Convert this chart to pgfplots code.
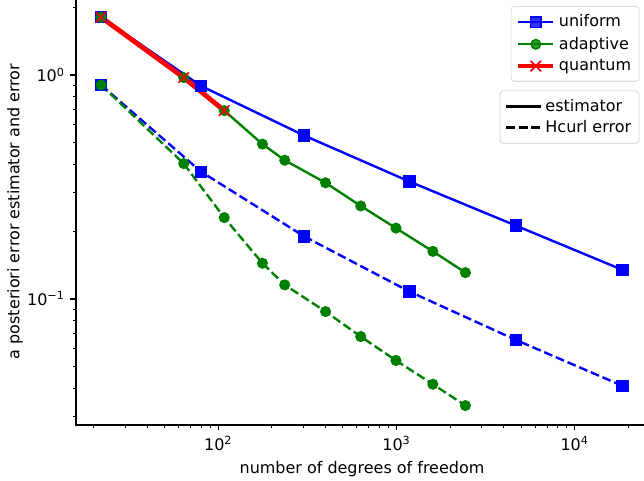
\documentclass[border=0pt]{standalone}
\usepackage{fontspec}
\setmainfont{DejaVu Sans}
\usepackage{pgfplots}
\pgfplotsset{compat=1.18}
\definecolor{mplblue}{rgb}{0,0,1}
\definecolor{mplgreen}{rgb}{0,0.5,0}
\definecolor{mplred}{rgb}{1,0,0}
\pgfplotsset{
  mpllegend/.style={
    legend cell align=left,
    legend image code/.code={\draw[mark repeat=2,mark phase=2] plot coordinates {(0pt,0pt) (11pt,0pt) (22pt,0pt)};},
    legend style={draw=black!20, rounded corners=2pt, fill=white, fill opacity=0.8, text opacity=1, anchor=north east, inner ysep=3.3pt},
  },
}
\begin{document}
\begin{tikzpicture}
\begin{axis}[name=ax, scale only axis, width=358.1pt, height=267.3pt,
  xmode=log, ymode=log,
  xmin=15.91, xmax=25780, ymin=0.02738, ymax=2.207,
  xtick={100,1000,10000},
  xticklabels={10\textsuperscript{2},10\textsuperscript{3},10\textsuperscript{4}},
  minor xtick={20,30,40,50,60,70,80,90,200,300,400,500,600,700,800,900,2000,3000,4000,5000,6000,7000,8000,9000,20000},
  ytick={0.1,1},
  yticklabels={10\textsuperscript{−1},10\textsuperscript{0}},
  minor ytick={0.03,0.04,0.05,0.06,0.07,0.08,0.09,0.2,0.3,0.4,0.5,0.6,0.7,0.8,0.9,2},
  tick align=outside, major tick length=3.5pt, minor tick length=2pt,
  every tick/.style={black, line width=0.8pt},
  minor tick style={line width=0.6pt},
  axis line style={line width=0.8pt},
  xlabel={number of degrees of freedom},
  ylabel={a posteriori error estimator and error},
  ylabel shift=-4pt,
  mpllegend,
  legend style={at={(0.985,0.981)}, row sep=0.8pt},
]
% uniform
\addplot[mplblue, line width=1.5pt, mark=square*, mark size=3.35pt, mark options={line width=1pt}]
  coordinates {(22,1.81) (80,0.893) (304,0.536) (1184,0.334) (4672,0.2125) (18560,0.1347)};
\addlegendentry{uniform}
\addplot[mplblue, line width=1.5pt, dash pattern=on 5.55pt off 2.4pt, mark=square*, mark size=3.35pt, mark options={solid, line width=1pt}, forget plot]
  coordinates {(22,0.902) (80,0.370) (304,0.190) (1184,0.1078) (4672,0.0656) (18560,0.0409)};
% adaptive
\addplot[mplgreen, line width=1.5pt, mark=*, mark size=2.95pt, mark options={line width=1pt}]
  coordinates {(22,1.81) (64,0.973) (108,0.693) (177,0.491) (236,0.416) (400,0.330) (630,0.260) (993,0.207) (1600,0.163) (2437,0.131)};
\addlegendentry{adaptive}
\addplot[mplgreen, line width=1.5pt, dash pattern=on 5.55pt off 2.4pt, mark=*, mark size=2.95pt, mark options={solid, line width=1pt}, forget plot]
  coordinates {(22,0.902) (64,0.402) (108,0.2307) (177,0.1443) (236,0.1155) (400,0.0878) (630,0.0679) (993,0.0531) (1600,0.0416) (2437,0.0334)};
% quantum
\addplot[mplred, line width=3pt, mark=x, mark size=4.6pt, mark options={line width=1pt}]
  coordinates {(22,1.81) (64,0.973) (108,0.693)};
\addlegendentry{quantum}
\end{axis}
\begin{axis}[at={(ax.south west)}, anchor=south west, scale only axis,
  width=358.1pt, height=267.3pt, hide axis,
  xmin=0, xmax=1, ymin=0, ymax=1,
  mpllegend,
  legend style={at={(0.985,0.783)}},
]
\addlegendimage{black, line width=1.5pt}
\addlegendentry{estimator}
\addlegendimage{black, line width=1.5pt, dash pattern=on 5.55pt off 2.4pt}
\addlegendentry{Hcurl error}
\end{axis}
\pgfresetboundingbox
\path[use as bounding box] ([shift={(-47.58pt,-35.06pt)}]ax.south west) rectangle ([shift={(355.6pt,266.0pt)}]ax.south west);
\end{tikzpicture}
\end{document}
